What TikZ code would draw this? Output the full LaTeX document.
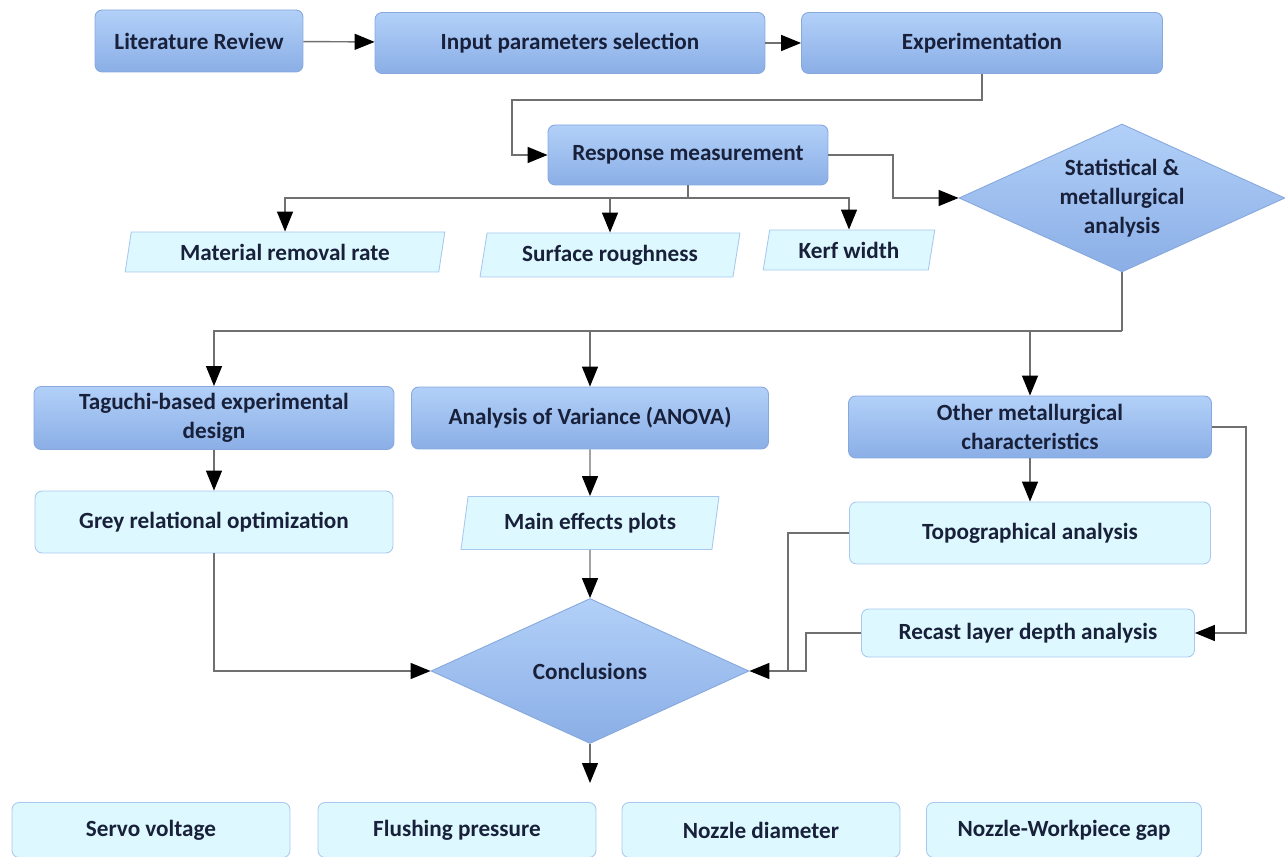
\documentclass[tikz,border=0pt]{standalone}
\usepackage{fontspec}
\setmainfont{Carlito}
\usetikzlibrary{arrows.meta,shapes.geometric}

\definecolor{boxtop}{HTML}{B2D0F8}
\definecolor{boxbot}{HTML}{8AAEE6}
\definecolor{boxedge}{HTML}{86A8DC}
\definecolor{lightfill}{HTML}{DDF9FF}
\definecolor{lightedge}{HTML}{A8C8F0}
\definecolor{inkblue}{HTML}{18203A}
\definecolor{wire}{HTML}{707070}

\begin{document}
\begin{tikzpicture}[
  x=0.02cm,
  y=-0.02cm,
  font=\bfseries\fontsize{13.2}{16.5}\selectfont,
  line/.style={draw=wire,line width=0.8pt},
  arrow/.style={line,-{Triangle[length=4mm,width=3.2mm,color=black]}},
  box/.style={draw=boxedge,line width=0.5pt,rounded corners=4pt,top color=boxtop,bottom color=boxbot,text=inkblue,align=center},
  lightbox/.style={draw=lightedge,line width=0.5pt,rounded corners=4pt,fill=lightfill,text=inkblue,align=center},
  databox/.style={trapezium,trapezium left angle=76,trapezium right angle=104,trapezium stretches=true,draw=lightedge,line width=0.5pt,fill=lightfill,text=inkblue,inner sep=0pt},
  decision/.style={diamond,draw=boxedge,line width=0.5pt,top color=boxtop,bottom color=boxbot,inner sep=0pt},
  decisiontext/.style={text=inkblue,align=center,inner sep=0pt}
]
\useasboundingbox (0,0) rectangle (1285,857);

% Top row
\node[box,minimum width=4.16cm,minimum height=1.24cm] (lit) at (199,41) {Literature Review};
\node[box,minimum width=7.8cm,minimum height=1.22cm] (input) at (570,43) {Input parameters selection};
\node[box,minimum width=7.22cm,minimum height=1.22cm] (exp) at (982,43) {Experimentation};
\draw[arrow] (lit) -- (input);
\draw[arrow] (input) -- (exp);

% Responses
\node[box,minimum width=5.6cm,minimum height=1.2cm] (resp) at (688,155) {Response measurement};
\coordinate (jog) at (512,100);
\draw[arrow] (exp.south) |- (jog) |- (resp.west);

\node[databox,minimum width=6.4cm,minimum height=0.8cm] (mrr) at (285,252) {Material removal rate};
\node[databox,minimum width=5.2cm,minimum height=0.88cm] (rough) at (610,255) {Surface roughness};
\node[databox,minimum width=3.44cm,minimum height=0.8cm] (kerf) at (849,250) {Kerf width};
\coordinate (split) at (688,198);
\draw[line] (resp.south) -- (split);
\draw[arrow] (split) -| (mrr.north);
\draw[arrow] (split) -| (rough.north);
\draw[arrow] (split) -| (kerf.north);

\node[decision,minimum width=6.52cm,minimum height=2.96cm] (stat) at (1122,198) {};
\node[decisiontext] (statlabel) at (stat) {Statistical \&\\metallurgical\\analysis};
\coordinate (bend) at (893,198);
\draw[arrow] (resp.east) -| (bend) -- (stat.west);

% Analysis branches
\node[box,minimum width=7.2cm,minimum height=1.26cm] (taguchi) at (214,418) {Taguchi-based experimental\\design};
\node[box,minimum width=7.14cm,minimum height=1.24cm] (anova) at (590,418) {Analysis of Variance (ANOVA)};
\node[box,minimum width=7.26cm,minimum height=1.24cm] (other) at (1030,427) {Other metallurgical\\characteristics};
\coordinate (fork) at (1122,331);
\draw[line] (stat.south) -- (fork);
\draw[arrow] (fork) -| (taguchi.north);
\draw[arrow] (fork) -| (anova.north);
\draw[arrow] (fork) -| (other.north);

\node[lightbox,minimum width=7.16cm,minimum height=1.24cm] (grey) at (214,522) {Grey relational optimization};
\node[databox,minimum width=5.16cm,minimum height=1.06cm] (effects) at (590,523) {Main effects plots};
\node[lightbox,minimum width=7.22cm,minimum height=1.24cm] (topo) at (1030,533) {Topographical analysis};
\node[lightbox,minimum width=6.66cm,minimum height=0.96cm] (recast) at (1028,633) {Recast layer depth analysis};
\draw[arrow] (taguchi) -- (grey);
\draw[arrow] (anova.south) -- (effects.north);
\draw[arrow] (other) -- (topo);
\coordinate (side) at (1246,427);
\draw[arrow] (other.east) -- (side) |- (recast.east);

% Conclusions
\node[decision,minimum width=6.36cm,minimum height=2.9cm] (concl) at (590,671) {};
\node[decisiontext] (concllabel) at (concl) {Conclusions};
\draw[arrow] (grey.south) |- (concl.west);
\draw[arrow] (effects.south) -- (concl.north);
\coordinate (join) at (788,671);
\coordinate (step2) at (806,671);
\draw[line] (topo.west) -| (join);
\draw[line] (recast.west) -| (step2) -- (join);
\draw[arrow] (join) -- (concl.east);
\coordinate (down) at (590,783);
\draw[arrow] (concl.south) -- (down);

% Input parameters
\node[lightbox,minimum width=5.56cm,minimum height=1.1cm] (servo) at (151,830) {Servo voltage};
\node[lightbox,minimum width=5.56cm,minimum height=1.1cm] (flush) at (457,830) {Flushing pressure};
\node[lightbox,minimum width=5.56cm,minimum height=1.1cm] (nozzle) at (761,830) {Nozzle diameter};
\node[lightbox,minimum width=5.5cm,minimum height=1.1cm] (gap) at (1064,830) {Nozzle-Workpiece gap};

\end{tikzpicture}
\end{document}
